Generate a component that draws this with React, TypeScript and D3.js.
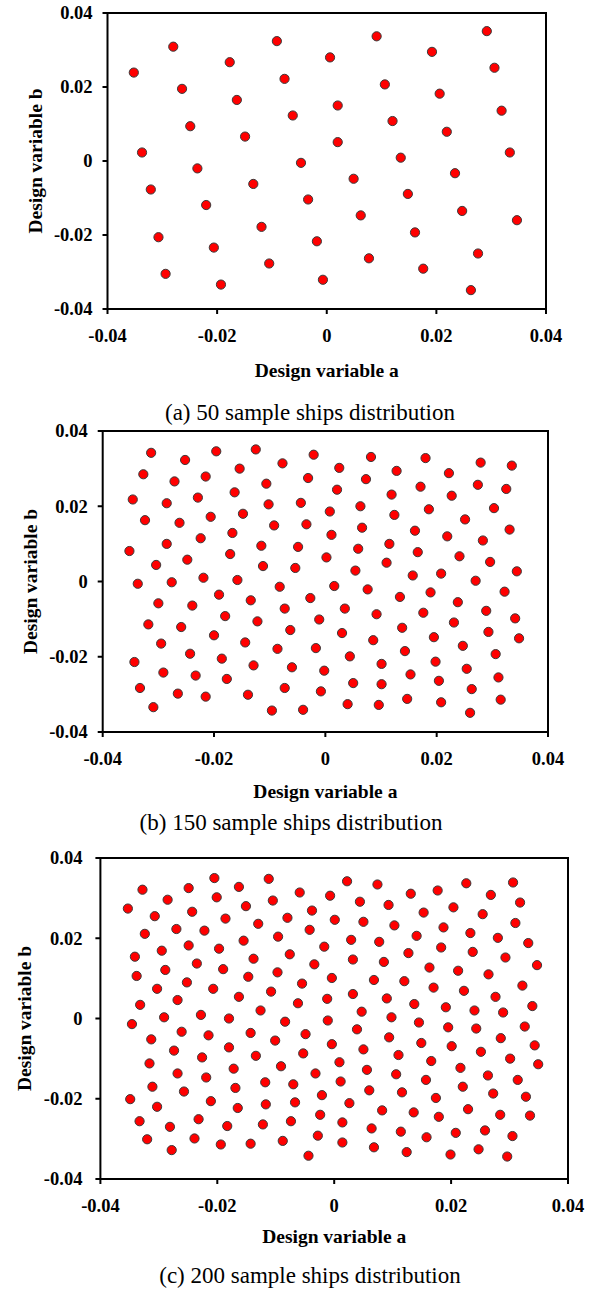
import React from "react";
import * as d3 from "d3";

type Pt = [number, number];

// Shared axis ticks for all three scatter panels
const AXIS_TICKS = [-0.04, -0.02, 0, 0.02, 0.04];
const TICK_TEXT = ["-0.04", "-0.02", "0", "0.02", "0.04"];

// (a) 50 sample ships: [design variable a, design variable b]
const ships50: Pt[] = [
  [-0.028, 0.0309], [-0.0352, 0.0239], [-0.0091, 0.0324], [-0.0177, 0.0267], [-0.0264, 0.0195],
  [-0.0077, 0.0222], [-0.0164, 0.0165], [-0.0062, 0.0123], [-0.0249, 0.0094], [-0.0149, 0.0066],
  [-0.0337, 0.0023], [-0.0047, -0.0005], [-0.0236, -0.002], [-0.0134, -0.0062], [-0.0321, -0.0077],
  [-0.0034, -0.0104], [-0.022, -0.0119], [-0.0119, -0.0178], [-0.0307, -0.0206], [-0.0018, -0.0217],
  [-0.0206, -0.0234], [-0.0105, -0.0277], [-0.0294, -0.0305], [-0.0193, -0.0334], [-0.0007, -0.0321],
  [0.0091, 0.0337], [0.0292, 0.0351], [0.0006, 0.028], [0.0192, 0.0295], [0.0306, 0.0252],
  [0.0106, 0.0207], [0.0206, 0.0182], [0.002, 0.015], [0.0319, 0.0136], [0.012, 0.0108],
  [0.0219, 0.0079], [0.002, 0.0051], [0.0334, 0.0023], [0.0135, 0.0009], [0.0234, -0.0033],
  [0.0049, -0.0048], [0.0148, -0.0089], [0.0247, -0.0135], [0.0347, -0.016], [0.0062, -0.0147],
  [0.0161, -0.0193], [0.0276, -0.025], [0.0077, -0.0263], [0.0176, -0.0291], [0.0263, -0.0349],
];

// (b) 150 sample ships
const ships150: Pt[] = [
  [-0.0313, 0.0342], [-0.0252, 0.0323], [-0.0196, 0.0346], [-0.0125, 0.0351], [-0.0077, 0.0314], [-0.0021, 0.0337],
  [-0.0327, 0.0285], [-0.0271, 0.0266], [-0.0215, 0.0279], [-0.0154, 0.03], [-0.0106, 0.026], [-0.0031, 0.0275],
  [-0.0346, 0.0218], [-0.0285, 0.0208], [-0.0229, 0.0223], [-0.0163, 0.0237], [-0.0102, 0.0205], [-0.0044, 0.0209],
  [-0.0324, 0.0163], [-0.0262, 0.0156], [-0.0206, 0.0172], [-0.0148, 0.018], [-0.0092, 0.0149], [-0.0034, 0.0152],
  [-0.0352, 0.0081], [-0.0285, 0.01], [-0.0224, 0.0115], [-0.0167, 0.0129], [-0.0115, 0.0095], [-0.0049, 0.0092],
  [-0.0304, 0.0044], [-0.0248, 0.0058], [-0.0171, 0.0073], [-0.0112, 0.0041], [-0.0054, 0.0036],
  [-0.0337, -0.0006], [-0.0276, -0.0002], [-0.0219, 0.001], [-0.0158, 0.0004], [-0.0082, -0.0014],
  [0.0025, 0.0302], [0.0082, 0.0331], [0.0128, 0.0294], [0.018, 0.0328], [0.0222, 0.0288], [0.0279, 0.0316], [0.0335, 0.0308],
  [0.0021, 0.0244], [0.0073, 0.0272], [0.0119, 0.0231], [0.0171, 0.0252], [0.0227, 0.0228], [0.0274, 0.0257], [0.0325, 0.0246],
  [0.0008, 0.0186], [0.0063, 0.02], [0.0124, 0.0177], [0.0186, 0.0192], [0.0251, 0.0165], [0.0303, 0.0195],
  [0.0011, 0.0124], [0.0066, 0.0143], [0.0161, 0.0135], [0.0219, 0.012], [0.0283, 0.0109], [0.0331, 0.0138],
  [0.0002, 0.0064], [0.0059, 0.0087], [0.0115, 0.01], [0.0166, 0.0078], [0.0241, 0.0067], [0.0296, 0.0052],
  [0.0054, 0.0029], [0.011, 0.005], [0.0157, 0.0016], [0.0208, 0.0021], [0.027, 0.0002], [0.0344, 0.0027],
  [-0.03, -0.0058], [-0.0239, -0.0064], [-0.0191, -0.0035], [-0.0134, -0.005], [-0.0073, -0.0072], [-0.0027, -0.0044],
  [-0.0318, -0.0114], [-0.0259, -0.0121], [-0.018, -0.0092], [-0.0122, -0.0106], [-0.0063, -0.0129], [-0.0011, -0.0101],
  [-0.0295, -0.0165], [-0.0243, -0.0192], [-0.02, -0.0143], [-0.0144, -0.0162], [-0.0086, -0.0179], [-0.0017, -0.0177],
  [-0.0343, -0.0214], [-0.0291, -0.0242], [-0.0233, -0.025], [-0.0186, -0.0205], [-0.0129, -0.0223], [-0.006, -0.0228], [-0.0002, -0.0237],
  [-0.0333, -0.0283], [-0.0265, -0.0298], [-0.0215, -0.0306], [-0.0177, -0.0259], [-0.0139, -0.0301], [-0.0073, -0.0283], [-0.0008, -0.0292],
  [-0.0309, -0.0334], [-0.0096, -0.0343], [-0.004, -0.0341],
  [0.0016, -0.0012], [0.0076, -0.0021], [0.0134, -0.0041], [0.0189, -0.0029], [0.0238, -0.0055], [0.0322, -0.0027],
  [0.0035, -0.0072], [0.0092, -0.0087], [0.0176, -0.0083], [0.0289, -0.0078], [0.0341, -0.0098],
  [0.003, -0.0137], [0.0086, -0.0156], [0.0138, -0.0123], [0.0195, -0.0148], [0.0231, -0.0109], [0.0293, -0.0134], [0.0348, -0.0151],
  [0.0044, -0.0199], [0.0101, -0.0219], [0.0143, -0.0185], [0.0198, -0.0213], [0.0247, -0.0171], [0.0306, -0.0193],
  [0.005, -0.027], [0.0101, -0.0273], [0.0153, -0.0247], [0.0204, -0.0264], [0.0254, -0.0232], [0.0311, -0.0255],
  [0.004, -0.0326], [0.0096, -0.0328], [0.0147, -0.0312], [0.0208, -0.0321], [0.0263, -0.0286], [0.0315, -0.0314], [0.026, -0.0349],
];

// (c) 200 sample ships
const ships200: Pt[] = [
  [-0.0205, 0.035], [-0.0112, 0.0348], [-0.0328, 0.0321], [-0.0249, 0.0325], [-0.0163, 0.0328], [-0.0059, 0.0314], [-0.0007, 0.0306],
  [-0.0353, 0.0274], [-0.0285, 0.0296], [-0.0201, 0.0302], [-0.0151, 0.028], [-0.0105, 0.0294], [-0.0038, 0.0269],
  [-0.0307, 0.0255], [-0.0243, 0.0266], [-0.0186, 0.0249], [-0.013, 0.0236], [-0.008, 0.0251], [0.0001, 0.0246],
  [-0.0324, 0.0211], [-0.027, 0.0223], [-0.0222, 0.0219], [-0.0155, 0.0194], [-0.0096, 0.0204], [-0.0042, 0.0221],
  [-0.0341, 0.0154], [-0.0295, 0.0169], [-0.0249, 0.0182], [-0.0197, 0.0174], [-0.0138, 0.0149], [-0.0076, 0.016], [-0.0017, 0.0179],
  [-0.0338, 0.0106], [-0.0289, 0.0121], [-0.0235, 0.0137], [-0.019, 0.0123], [-0.0147, 0.0104], [-0.0097, 0.0115], [-0.0034, 0.0135],
  [-0.0303, 0.0074], [-0.0252, 0.009], [-0.0207, 0.0074], [-0.0108, 0.0067], [-0.0055, 0.0087], [-0.0004, 0.0101],
  [0.0022, 0.0342], [0.0074, 0.0334], [0.0131, 0.0311], [0.0177, 0.0319], [0.0226, 0.0337], [0.0306, 0.0339],
  [0.0044, 0.0291], [0.0093, 0.0283], [0.0153, 0.0264], [0.0204, 0.0277], [0.0268, 0.0308], [0.0318, 0.0289],
  [0.005, 0.0241], [0.0103, 0.0232], [0.0187, 0.0227], [0.0254, 0.026], [0.031, 0.0238],
  [0.0029, 0.0196], [0.0077, 0.0191], [0.0141, 0.0206], [0.0233, 0.0213], [0.028, 0.0201], [0.0332, 0.0188],
  [0.0032, 0.0147], [0.0085, 0.0141], [0.0127, 0.0163], [0.0183, 0.0177], [0.0237, 0.0166], [0.0293, 0.0152], [0.0347, 0.0133],
  [0.0068, 0.0096], [0.012, 0.0093], [0.0163, 0.0127], [0.0212, 0.0119], [0.0264, 0.011], [0.0322, 0.0082],
  [-0.0332, 0.0034], [-0.0268, 0.0046], [-0.0163, 0.0054], [-0.0062, 0.0038], [-0.0012, 0.0049],
  [-0.0346, -0.0014], [-0.0291, 0.0003], [-0.0228, 0.0009], [-0.018, 0.0], [-0.0126, 0.002], [-0.0084, -0.0008], [-0.0011, -0.0005],
  [-0.0313, -0.0052], [-0.0261, -0.0033], [-0.0215, -0.0042], [-0.0143, -0.0036], [-0.0101, -0.0055], [-0.0049, -0.0039], [-0.0004, -0.0064],
  [-0.0274, -0.008], [-0.0226, -0.0097], [-0.018, -0.0072], [-0.0134, -0.0093], [-0.0053, -0.0087],
  [-0.0316, -0.0112], [-0.0268, -0.0137], [-0.0219, -0.0147], [-0.0172, -0.0125], [-0.0091, -0.0119], [-0.0032, -0.0137],
  [-0.0311, -0.017], [-0.0257, -0.0182], [-0.0169, -0.0173], [-0.0118, -0.0159], [-0.007, -0.0164], [-0.0021, -0.0191],
  [-0.0349, -0.0201], [-0.0303, -0.022], [-0.0211, -0.0206], [-0.0165, -0.0223], [-0.0117, -0.0214], [-0.0067, -0.0209], [-0.0024, -0.024],
  [-0.0333, -0.0256], [-0.0281, -0.027], [-0.0232, -0.0251], [-0.0183, -0.0268], [-0.0122, -0.0264], [-0.0074, -0.0256], [-0.0028, -0.0292],
  [-0.032, -0.0301], [-0.0278, -0.0328], [-0.0239, -0.0299], [-0.0194, -0.0314], [-0.0143, -0.0312], [-0.0088, -0.0305], [-0.0044, -0.0342],
  [0.017, 0.0077], [0.0222, 0.0069], [0.0032, 0.0061], [0.009, 0.005], [0.0137, 0.0036], [0.0191, 0.0028], [0.024, 0.002], [0.0276, 0.0054], [0.0289, 0.0015], [0.0339, 0.0031],
  [0.0047, 0.0017], [0.0098, 0.0003], [0.0145, -0.001], [0.0195, -0.0022], [0.0243, -0.0025], [0.0326, -0.002],
  [0.0039, -0.0027], [0.0094, -0.0047], [0.0149, -0.0061], [0.0201, -0.0069], [0.0251, -0.0083], [0.0285, -0.0049], [0.0343, -0.0067],
  [0.005, -0.0077], [0.011, -0.0091], [0.0166, -0.0106], [0.0216, -0.0123], [0.0301, -0.01], [0.0349, -0.0114],
  [0.0009, -0.0109], [0.0056, -0.0128], [0.0106, -0.0139], [0.0157, -0.0153], [0.022, -0.017], [0.0263, -0.0142], [0.0314, -0.0153],
  [0.0011, -0.0157], [0.006, -0.0179], [0.0116, -0.0184], [0.0174, -0.0198], [0.0272, -0.0187], [0.0328, -0.0195],
  [0.0026, -0.0211], [0.0082, -0.0229], [0.0136, -0.0234], [0.0179, -0.0245], [0.0229, -0.0226], [0.0284, -0.024], [0.0335, -0.0242],
  [0.0014, -0.0259], [0.0064, -0.0274], [0.0114, -0.0282], [0.0158, -0.0296], [0.0208, -0.0285], [0.0258, -0.0279], [0.0305, -0.0293],
  [0.0014, -0.0309], [0.0068, -0.0321], [0.0124, -0.0333], [0.0199, -0.0339], [0.0247, -0.0326], [0.0296, -0.0344],
];

const CAPTIONS = [
  "(a) 50 sample ships distribution",
  "(b) 150 sample ships distribution",
  "(c) 200 sample ships distribution",
];

const SERIF = "'Liberation Serif', 'Times New Roman', serif";
const TICK_FONT = 18.5;
const TITLE_FONT = 19.5;
const CAPTION_FONT = 23;

interface PanelProps {
  data: Pt[];
  left: number;
  right: number;
  top: number;
  bottom: number;
  labelGap: number;
  yTitleX: number;
  xTitleGap: number;
  caption: string;
  captionX: number;
  captionY: number;
}

function ScatterPanel({
  data, left, right, top, bottom, labelGap, yTitleX, xTitleGap, caption, captionX, captionY,
}: PanelProps) {
  const x = d3.scaleLinear().domain([-0.04, 0.04]).range([left, right]);
  const y = d3.scaleLinear().domain([-0.04, 0.04]).range([bottom, top]);
  const tickLen = 5;
  const midY = (top + bottom) / 2;
  const midX = (left + right) / 2;

  return (
    <g>
      {data.map((d, i) => (
        <circle
          key={i}
          cx={x(d[0])}
          cy={y(d[1])}
          r={4.6}
          fill="#ff0000"
          stroke="#3a3a3a"
          strokeWidth={1}
        />
      ))}

      <rect x={left} y={top} width={right - left} height={bottom - top} fill="none" stroke="#000" strokeWidth={2} />

      {AXIS_TICKS.map((t, i) => (
        <g key={"x" + i}>
          <line x1={x(t)} x2={x(t)} y1={bottom} y2={bottom + tickLen} stroke="#000" strokeWidth={2} />
          <text
            x={x(t)}
            y={bottom + 33}
            textAnchor="middle"
            fontFamily={SERIF}
            fontWeight="bold"
            fontSize={TICK_FONT}
            fill="#000"
          >
            {TICK_TEXT[i]}
          </text>
        </g>
      ))}

      {AXIS_TICKS.map((t, i) => (
        <g key={"y" + i}>
          <line x1={left - tickLen} x2={left} y1={y(t)} y2={y(t)} stroke="#000" strokeWidth={2} />
          <text
            x={left - labelGap}
            y={y(t)}
            dy="0.35em"
            textAnchor="end"
            fontFamily={SERIF}
            fontWeight="bold"
            fontSize={TICK_FONT}
            fill="#000"
          >
            {TICK_TEXT[i]}
          </text>
        </g>
      ))}

      <text
        x={midX}
        y={bottom + xTitleGap}
        textAnchor="middle"
        fontFamily={SERIF}
        fontWeight="bold"
        fontSize={TITLE_FONT}
        fill="#000"
      >
        Design variable a
      </text>
      <text
        transform={`translate(${yTitleX},${midY}) rotate(-90)`}
        dy="0.35em"
        textAnchor="middle"
        fontFamily={SERIF}
        fontWeight="bold"
        fontSize={TITLE_FONT}
        fill="#000"
      >
        Design variable b
      </text>

      <text x={captionX} y={captionY} textAnchor="middle" fontFamily={SERIF} fontSize={CAPTION_FONT} fill="#000">
        {caption}
      </text>
    </g>
  );
}

export default function App() {
  return (
    <svg
      width={594}
      height={1300}
      viewBox="0 0 594 1300"
      style={{ position: "absolute", left: 0, top: 0, background: "#fff" }}
    >
      <rect width={594} height={1300} fill="#fff" />
      <ScatterPanel
        data={ships50}
        left={107.5}
        right={546}
        top={13}
        bottom={309}
        labelGap={15}
        yTitleX={35}
        xTitleGap={68}
        caption={CAPTIONS[0]}
        captionX={310}
        captionY={420}
      />
      <ScatterPanel
        data={ships150}
        left={102.7}
        right={548}
        top={431}
        bottom={732}
        labelGap={15}
        yTitleX={30}
        xTitleGap={66}
        caption={CAPTIONS[1]}
        captionX={291}
        captionY={830}
      />
      <ScatterPanel
        data={ships200}
        left={100.4}
        right={568}
        top={858}
        bottom={1179}
        labelGap={18}
        yTitleX={24}
        xTitleGap={64}
        caption={CAPTIONS[2]}
        captionX={310}
        captionY={1283}
      />
    </svg>
  );
}
